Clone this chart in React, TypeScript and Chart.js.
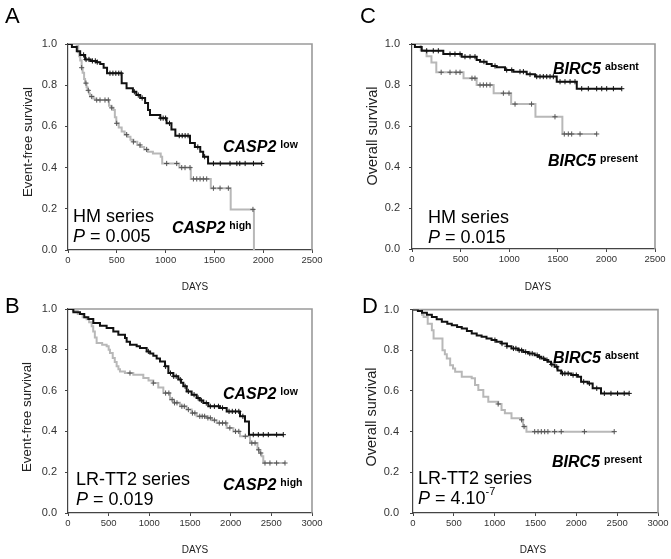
import React, { useEffect, useRef } from 'react';
import { Chart, registerables } from 'chart.js';

Chart.register(...registerables);

type Step = [number, number];

// ---------- tick values ----------
const X_TICKS_HM = [0, 500, 1000, 1500, 2000, 2500];
const X_TICKS_LR = [0, 500, 1000, 1500, 2000, 2500, 3000];
const Y_TICKS = [0, 0.2, 0.4, 0.6, 0.8, 1.0];

// ---------- Panel A : HM series, CASP2 ----------
const A_LOW_STEPS: Step[] = [
  [0, 1], [40, 0.985], [90, 0.965], [125, 0.947], [175, 0.925], [230, 0.918], [290, 0.912],
  [330, 0.903], [365, 0.885], [400, 0.858], [550, 0.81], [600, 0.785], [665, 0.768],
  [700, 0.752], [740, 0.738], [790, 0.713], [820, 0.68], [840, 0.655], [945, 0.64],
  [1010, 0.615], [1060, 0.585], [1100, 0.555], [1250, 0.52], [1300, 0.5], [1355, 0.477],
  [1385, 0.453], [1435, 0.42],
];
const A_LOW_CENSOR = [160, 185, 215, 250, 280, 300, 430, 460, 490, 520, 545, 680, 720, 760,
  950, 975, 1000, 1040, 1140, 1170, 1200, 1230, 1330, 1400, 1490, 1560, 1660, 1730, 1760,
  1815, 1900, 1985];
const A_HIGH_STEPS: Step[] = [
  [0, 1], [90, 0.99], [105, 0.96], [115, 0.94], [125, 0.92], [140, 0.885], [150, 0.86],
  [165, 0.83], [175, 0.81], [190, 0.79], [200, 0.775], [215, 0.76], [225, 0.745], [260, 0.735],
  [275, 0.728], [420, 0.7], [445, 0.69], [465, 0.68], [480, 0.645], [495, 0.615], [520, 0.595],
  [550, 0.575], [580, 0.56], [610, 0.55], [640, 0.535], [670, 0.525], [710, 0.51], [740, 0.5],
  [780, 0.488], [820, 0.477], [870, 0.468], [950, 0.453], [965, 0.42], [1140, 0.4],
  [1258, 0.345], [1463, 0.3], [1667, 0.197], [1905, 0],
];
const A_HIGH_CENSOR = [140, 184, 208, 243, 294, 328, 379, 413, 448, 499, 601, 670, 738, 806,
  1011, 1114, 1165, 1199, 1250, 1285, 1319, 1353, 1387, 1421, 1490, 1558, 1643, 1895];

// ---------- Panel C : HM series, BIRC5 ----------
const C_ABSENT_STEPS: Step[] = [
  [0, 1], [30, 0.985], [100, 0.967], [322, 0.951], [511, 0.938], [665, 0.922], [700, 0.914],
  [768, 0.903], [820, 0.893], [871, 0.886], [957, 0.873], [1042, 0.865], [1180, 0.852],
  [1266, 0.841], [1489, 0.816], [1695, 0.782],
];
const C_ABSENT_CENSOR = [151, 219, 271, 391, 442, 494, 545, 597, 648, 740, 854, 974, 1026,
  1111, 1146, 1214, 1283, 1317, 1351, 1386, 1420, 1454, 1523, 1574, 1626, 1677, 1746, 1814,
  1900, 1952, 2003, 2072, 2158];
const C_PRESENT_STEPS: Step[] = [
  [0, 1], [90, 0.97], [150, 0.94], [200, 0.91], [250, 0.862], [530, 0.833], [665, 0.8],
  [840, 0.76], [1020, 0.707], [1270, 0.645], [1547, 0.561],
];
const C_PRESENT_CENSOR = [300, 391, 453, 494, 617, 648, 700, 734, 768, 803, 940, 998, 1060,
  1230, 1471, 1567, 1608, 1643, 1729, 1900];

// ---------- Panel B : LR-TT2 series, CASP2 ----------
const B_LOW_STEPS: Step[] = [
  [0, 1], [66, 0.984], [148, 0.975], [200, 0.96], [250, 0.951], [311, 0.931], [393, 0.918],
  [475, 0.907], [557, 0.89], [619, 0.874], [701, 0.858], [721, 0.84], [762, 0.825],
  [844, 0.817], [885, 0.809], [967, 0.792], [1010, 0.782], [1049, 0.771], [1090, 0.757],
  [1131, 0.743], [1193, 0.719], [1234, 0.686], [1295, 0.67], [1356, 0.654], [1390, 0.638],
  [1418, 0.621], [1459, 0.596], [1520, 0.58], [1582, 0.564], [1620, 0.552], [1664, 0.539],
  [1725, 0.523], [1869, 0.515], [1951, 0.498], [2115, 0.474], [2176, 0.449], [2225, 0.384],
];
const B_LOW_CENSOR = [988, 1200, 1260, 1300, 1330, 1380, 1440, 1480, 1550, 1600, 1640, 1700,
  1750, 1800, 1850, 1900, 1980, 2020, 2060, 2100, 2150, 2278, 2340, 2401, 2463, 2565, 2647];
const B_HIGH_STEPS: Step[] = [
  [0, 1], [60, 0.99], [120, 0.975], [180, 0.96], [229, 0.95], [260, 0.935], [291, 0.915],
  [310, 0.89], [330, 0.86], [352, 0.833], [420, 0.825], [475, 0.817], [500, 0.8], [516, 0.784],
  [550, 0.76], [575, 0.74], [598, 0.719], [620, 0.705], [639, 0.694], [700, 0.686],
  [803, 0.678], [926, 0.662], [990, 0.65], [1049, 0.637], [1110, 0.615], [1172, 0.588],
  [1254, 0.556], [1300, 0.54], [1377, 0.523], [1459, 0.507], [1520, 0.49], [1582, 0.474],
  [1705, 0.466], [1770, 0.455], [1828, 0.441], [1951, 0.417], [2033, 0.4], [2115, 0.376],
  [2238, 0.343], [2330, 0.31], [2350, 0.294], [2380, 0.278], [2401, 0.245],
];
const B_HIGH_CENSOR = [762, 1049, 1200, 1240, 1280, 1310, 1340, 1400, 1430, 1480, 1530, 1560,
  1620, 1650, 1680, 1720, 1750, 1800, 1860, 1900, 1940, 1990, 2060, 2100, 2180, 2260, 2300,
  2345, 2370, 2422, 2483, 2565, 2668];

// ---------- Panel D : LR-TT2 series, BIRC5 ----------
const D_ABSENT_STEPS: Step[] = [
  [0, 1], [60, 0.993], [110, 0.985], [170, 0.975], [231, 0.964], [290, 0.952], [353, 0.94],
  [420, 0.93], [475, 0.923], [540, 0.915], [597, 0.907], [660, 0.895], [719, 0.882],
  [780, 0.873], [840, 0.866], [900, 0.858], [962, 0.85], [1020, 0.842], [1084, 0.833],
  [1150, 0.82], [1206, 0.809], [1287, 0.8], [1350, 0.792], [1409, 0.784], [1490, 0.776],
  [1530, 0.768], [1571, 0.76], [1610, 0.752], [1652, 0.743], [1690, 0.73], [1734, 0.719],
  [1770, 0.7], [1815, 0.686], [1937, 0.678], [2018, 0.67], [2058, 0.645], [2140, 0.637],
  [2200, 0.613], [2302, 0.588],
];
const D_ABSENT_CENSOR = [1003, 1090, 1150, 1230, 1260, 1300, 1330, 1380, 1430, 1460, 1520,
  1550, 1600, 1640, 1700, 1760, 1830, 1860, 1900, 1960, 2000, 2090, 2160, 2250, 2343, 2424,
  2505, 2586, 2647];
const D_PRESENT_STEPS: Step[] = [
  [0, 1], [89, 0.993], [110, 0.975], [130, 0.964], [180, 0.931], [231, 0.899], [252, 0.858],
  [361, 0.8], [390, 0.78], [414, 0.76], [455, 0.727], [490, 0.71], [516, 0.694], [597, 0.67],
  [719, 0.662], [759, 0.629], [800, 0.605], [861, 0.572], [922, 0.547], [1043, 0.536],
  [1084, 0.507], [1125, 0.49], [1206, 0.466], [1328, 0.458], [1348, 0.425], [1389, 0.4],
];
const D_PRESENT_CENSOR = [1043, 1330, 1360, 1490, 1531, 1571, 1612, 1652, 1734, 1815, 2099, 2464];

// ---------- helpers ----------
const FONT = '"Liberation Sans", Arial, Helvetica, sans-serif';
const f = (spec: string) => `${spec} ${FONT}`;

function survivalAt(steps: Step[], t: number): number {
  let s = 1;
  for (const [tt, ss] of steps) {
    if (tt <= t) s = ss;
    else break;
  }
  return s;
}

type Part = { t: string; f: string; dy?: number; gap?: number };
type TextItem = { x: number; y: number; parts: Part[]; align?: 'left' | 'center'; rot?: boolean; color?: string };
type Curve = { steps: Step[]; censor: number[]; line: string; mark: string };
type PanelDef = {
  box: { left: number; top: number; width: number; height: number };
  area: { l: number; t: number; r: number; b: number };
  xMax: number;
  xTicks: number[];
  yPad: number;
  curves: Curve[];
  texts: TextItem[];
};

const BLACK = '#111';
const GRAY = '#b8b8b8';
const GRAY_MARK = '#555';

const sup = (t: string, dy = -4): Part => ({ t, f: f('bold 10.5px'), dy });
const gene = (name: string, s: string, x: number, y: number): TextItem => ({
  x, y, parts: [{ t: name, f: f('italic bold 16px'), gap: 4 }, sup(s)],
});
const seriesText = (name: string, x: number, y: number): TextItem => ({
  x, y, parts: [{ t: name, f: f('18px') }],
});

const PANELS: PanelDef[] = [
  {
    box: { left: 0, top: 0, width: 335, height: 294 },
    area: { l: 68, t: 44, r: 312, b: 250 },
    xMax: 2500, xTicks: X_TICKS_HM, yPad: 8,
    curves: [
      { steps: A_LOW_STEPS, censor: A_LOW_CENSOR, line: BLACK, mark: BLACK },
      { steps: A_HIGH_STEPS, censor: A_HIGH_CENSOR, line: GRAY, mark: GRAY_MARK },
    ],
    texts: [
      { x: 5, y: 23, parts: [{ t: 'A', f: f('22px') }] },
      { x: 28, y: 142, rot: true, align: 'center', parts: [{ t: 'Event-free survival', f: f('13.3px') }], color: '#222' },
      { x: 195, y: 287, align: 'center', parts: [{ t: 'DAYS', f: f('10px') }], color: '#222' },
      gene('CASP2', 'low', 223, 152),
      gene('CASP2', 'high', 172, 233),
      seriesText('HM series', 73, 222),
      { x: 73, y: 242, parts: [{ t: 'P', f: f('italic 18px') }, { t: ' = 0.005', f: f('18px') }] },
    ],
  },
  {
    box: { left: 335, top: 0, width: 336, height: 294 },
    area: { l: 412, t: 44, r: 655, b: 249 },
    xMax: 2500, xTicks: X_TICKS_HM, yPad: 9,
    curves: [
      { steps: C_ABSENT_STEPS, censor: C_ABSENT_CENSOR, line: BLACK, mark: BLACK },
      { steps: C_PRESENT_STEPS, censor: C_PRESENT_CENSOR, line: GRAY, mark: GRAY_MARK },
    ],
    texts: [
      { x: 360, y: 23, parts: [{ t: 'C', f: f('22px') }] },
      { x: 372.5, y: 136, rot: true, align: 'center', parts: [{ t: 'Overall survival', f: f('14.5px') }], color: '#222' },
      { x: 538, y: 287, align: 'center', parts: [{ t: 'DAYS', f: f('10px') }], color: '#222' },
      gene('BIRC5', 'absent', 553, 74),
      gene('BIRC5', 'present', 548, 166),
      seriesText('HM series', 428, 223),
      { x: 428, y: 243, parts: [{ t: 'P', f: f('italic 18px') }, { t: ' = 0.015', f: f('18px') }] },
    ],
  },
  {
    box: { left: 0, top: 292, width: 335, height: 267 },
    area: { l: 68, t: 309, r: 312, b: 513 },
    xMax: 3000, xTicks: X_TICKS_LR, yPad: 8,
    curves: [
      { steps: B_LOW_STEPS, censor: B_LOW_CENSOR, line: BLACK, mark: BLACK },
      { steps: B_HIGH_STEPS, censor: B_HIGH_CENSOR, line: GRAY, mark: GRAY_MARK },
    ],
    texts: [
      { x: 5, y: 313, parts: [{ t: 'B', f: f('22px') }] },
      { x: 27, y: 417, rot: true, align: 'center', parts: [{ t: 'Event-free survival', f: f('13.3px') }], color: '#222' },
      { x: 195, y: 550, align: 'center', parts: [{ t: 'DAYS', f: f('10px') }], color: '#222' },
      gene('CASP2', 'low', 223, 399),
      gene('CASP2', 'high', 223, 490),
      seriesText('LR-TT2 series', 76, 485),
      { x: 76, y: 505, parts: [{ t: 'P', f: f('italic 18px') }, { t: ' = 0.019', f: f('18px') }] },
    ],
  },
  {
    box: { left: 335, top: 292, width: 336, height: 267 },
    area: { l: 413, t: 309, r: 658, b: 513 },
    xMax: 3000, xTicks: X_TICKS_LR, yPad: 11,
    curves: [
      { steps: D_ABSENT_STEPS, censor: D_ABSENT_CENSOR, line: BLACK, mark: BLACK },
      { steps: D_PRESENT_STEPS, censor: D_PRESENT_CENSOR, line: GRAY, mark: GRAY_MARK },
    ],
    texts: [
      { x: 362, y: 313, parts: [{ t: 'D', f: f('22px') }] },
      { x: 372, y: 417, rot: true, align: 'center', parts: [{ t: 'Overall survival', f: f('14.5px') }], color: '#222' },
      { x: 533, y: 550, align: 'center', parts: [{ t: 'DAYS', f: f('10px') }], color: '#222' },
      gene('BIRC5', 'absent', 553, 363),
      gene('BIRC5', 'present', 552, 467),
      seriesText('LR-TT2 series', 418, 484),
      {
        x: 418, y: 504, parts: [
          { t: 'P', f: f('italic 18px') }, { t: ' = 4.10', f: f('18px') },
          { t: '-7', f: f('11px'), dy: -9 },
        ],
      },
    ],
  },
];

const Y_AXIS_W = 40;
const X_AXIS_H = 20;

function buildConfig(p: PanelDef): any {
  const datasets: any[] = [];
  p.curves.forEach((c, i) => {
    const last = c.steps[c.steps.length - 1];
    const end = Math.max(last[0], ...c.censor);
    const pts = c.steps.map(([x, y]) => ({ x, y }));
    if (end > last[0]) pts.push({ x: end, y: last[1] });
    datasets.push({
      data: pts, showLine: true, stepped: true, borderColor: c.line, borderWidth: 2,
      pointRadius: 0, order: i * 2 + 1,
    });
    datasets.push({
      data: c.censor.map((t) => ({ x: t, y: survivalAt(c.steps, t) })),
      showLine: false, pointStyle: 'cross', pointRadius: 2.6, pointBorderWidth: 1,
      borderColor: c.mark, backgroundColor: c.mark, order: i * 2,
    });
  });

  const ox = p.box.left;
  const oy = p.box.top;
  const textPlugin = {
    id: 'txt',
    beforeDatasetsDraw(chart: any) {
      const { ctx, chartArea: a } = chart;
      ctx.save();
      ctx.strokeStyle = '#9a9a9a';
      ctx.lineWidth = 1.6;
      ctx.beginPath();
      ctx.moveTo(a.left, a.top);
      ctx.lineTo(a.right, a.top);
      ctx.lineTo(a.right, a.bottom);
      ctx.stroke();
      ctx.restore();
    },
    afterDraw(chart: any) {
      const ctx = chart.ctx as CanvasRenderingContext2D;
      for (const it of p.texts) {
        ctx.save();
        ctx.fillStyle = it.color || '#000';
        const x = it.x - ox;
        const y = it.y - oy;
        if (it.rot) {
          ctx.translate(x, y);
          ctx.rotate(-Math.PI / 2);
          ctx.font = it.parts[0].f;
          ctx.textAlign = 'center';
          ctx.textBaseline = 'middle';
          ctx.fillText(it.parts[0].t, 0, 0);
        } else if (it.align === 'center') {
          ctx.font = it.parts[0].f;
          ctx.textAlign = 'center';
          ctx.textBaseline = 'middle';
          ctx.fillText(it.parts[0].t, x, y);
        } else {
          ctx.textAlign = 'left';
          ctx.textBaseline = 'alphabetic';
          let cx = x;
          for (const part of it.parts) {
            ctx.font = part.f;
            ctx.fillText(part.t, cx, y + (part.dy || 0));
            cx += ctx.measureText(part.t).width + (part.gap || 0);
          }
        }
        ctx.restore();
      }
    },
  };

  const padding = {
    left: p.area.l - ox - Y_AXIS_W,
    top: p.area.t - oy,
    right: ox + p.box.width - p.area.r,
    bottom: oy + p.box.height - p.area.b - X_AXIS_H,
  };

  return {
    type: 'scatter',
    data: { datasets },
    options: {
      animation: false,
      responsive: false,
      maintainAspectRatio: false,
      layout: { padding },
      plugins: { legend: { display: false }, tooltip: { enabled: false }, title: { display: false } },
      events: [],
      scales: {
        x: {
          type: 'linear', min: 0, max: p.xMax,
          afterBuildTicks: (s: any) => { s.ticks = p.xTicks.map((v) => ({ value: v })); },
          afterFit: (s: any) => { s.height = X_AXIS_H; },
          ticks: {
            autoSkip: false, maxRotation: 0, padding: 2, color: '#333',
            font: { family: FONT, size: 9.5 },
            callback: (v: any) => String(v),
          },
          grid: { drawOnChartArea: false, drawTicks: true, tickLength: 3, color: '#444', lineWidth: 1 },
          border: { color: '#444', width: 1.2 },
        },
        y: {
          type: 'linear', min: 0, max: 1,
          afterBuildTicks: (s: any) => { s.ticks = Y_TICKS.map((v) => ({ value: v })); },
          afterFit: (s: any) => { s.width = Y_AXIS_W; },
          ticks: {
            autoSkip: false, padding: p.yPad, color: '#333',
            font: { family: FONT, size: 11 },
            callback: (v: any) => Number(v).toFixed(1),
          },
          grid: { drawOnChartArea: false, drawTicks: true, tickLength: 3, color: '#444', lineWidth: 1 },
          border: { color: '#444', width: 1.2 },
        },
      },
    },
    plugins: [textPlugin],
  };
}

function Panel({ def }: { def: PanelDef }) {
  const ref = useRef<HTMLCanvasElement | null>(null);
  useEffect(() => {
    if (!ref.current) return;
    const chart = new Chart(ref.current, buildConfig(def));
    return () => chart.destroy();
  }, [def]);
  return (
    <canvas
      ref={ref}
      width={def.box.width}
      height={def.box.height}
      style={{
        position: 'absolute', left: def.box.left, top: def.box.top,
        width: def.box.width, height: def.box.height,
      }}
    />
  );
}

export default function App() {
  return (
    <div style={{ position: 'fixed', left: 0, top: 0, width: 671, height: 559, background: '#fff' }}>
      {PANELS.map((p, i) => (
        <Panel key={i} def={p} />
      ))}
    </div>
  );
}
